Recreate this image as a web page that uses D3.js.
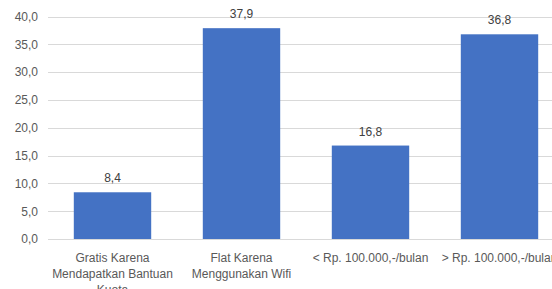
<!DOCTYPE html>
<html>
<head>
<meta charset="utf-8">
<script src="https://cdn.jsdelivr.net/npm/d3@7"></script>
<style>
  body { margin: 0; background: #fff; }
  svg { display: block; font-family: "Liberation Sans", Arial, sans-serif; }
</style>
</head>
<body>
<div id="chart"></div>
<script>
const categories = [
  'Gratis Karena Mendapatkan Bantuan Kuota',
  'Flat Karena Menggunakan Wifi',
  '< Rp. 100.000,-/bulan',
  '> Rp. 100.000,-/bulan'
];
const values = [8.4, 37.9, 16.8, 36.8];
const yTicks = [0, 5, 10, 15, 20, 25, 30, 35, 40];

const width = 552, height = 289;
const margin = { top: 16.5, left: 48, bottom: 50 };
const plotRight = 564; // plot area runs past the right edge of the picture

const svg = d3.select('#chart')
  .append('svg')
  .attr('width', width)
  .attr('height', height);

const fmt = v => d3.format('.1f')(v).replace('.', ',');

const x = d3.scaleBand()
  .domain(categories)
  .range([margin.left, plotRight])
  .paddingInner(0.4)
  .paddingOuter(0.2);

const y = d3.scaleLinear()
  .domain([0, 40])
  .range([239, margin.top]);

// gridlines
svg.append('g')
  .selectAll('line')
  .data(yTicks)
  .join('line')
  .attr('x1', margin.left)
  .attr('x2', plotRight)
  .attr('y1', d => Math.round(y(d)) + 0.5)
  .attr('y2', d => Math.round(y(d)) + 0.5)
  .attr('stroke', '#d9d9d9')
  .attr('stroke-width', 1);

// y axis labels
const yAxis = svg.append('g')
  .attr('transform', `translate(${margin.left - 10},0)`)
  .call(d3.axisLeft(y).tickValues(yTicks).tickFormat(fmt).tickSize(0).tickPadding(0));
yAxis.select('.domain').remove();
yAxis.selectAll('text')
  .attr('fill', '#595959')
  .style('font-size', '12px')
  .style('font-family', '"Liberation Sans", Arial, sans-serif');

// bars
svg.append('g')
  .selectAll('rect')
  .data(values)
  .join('rect')
  .attr('x', (d, i) => x(categories[i]))
  .attr('y', d => y(d))
  .attr('width', x.bandwidth())
  .attr('height', d => y(0) - y(d))
  .attr('fill', '#4472c4');

// value labels
svg.append('g')
  .selectAll('text')
  .data(values)
  .join('text')
  .attr('x', (d, i) => x(categories[i]) + x.bandwidth() / 2)
  .attr('y', d => y(d) - 10)
  .attr('text-anchor', 'middle')
  .attr('fill', '#404040')
  .style('font-size', '12px')
  .text(fmt);

// category labels, wrapped to the band step
const xAxis = svg.append('g')
  .attr('transform', `translate(0,${y(0)})`)
  .call(d3.axisBottom(x).tickSize(0).tickPadding(0));
xAxis.select('.domain').remove();
xAxis.selectAll('text')
  .attr('fill', '#595959')
  .style('font-size', '12px')
  .style('font-family', '"Liberation Sans", Arial, sans-serif')
  .call(wrap, 124);

function wrap(texts, maxWidth) {
  texts.each(function () {
    const text = d3.select(this);
    const words = text.text().split(/\s+/);
    text.text(null);
    let line = [];
    let lineNo = 0;
    let tspan = text.append('tspan').attr('x', 0).attr('y', 23);
    for (const word of words) {
      line.push(word);
      tspan.text(line.join(' '));
      if (tspan.node().getComputedTextLength() > maxWidth && line.length > 1) {
        line.pop();
        tspan.text(line.join(' '));
        line = [word];
        lineNo++;
        tspan = text.append('tspan').attr('x', 0).attr('y', 23 + lineNo * 16).text(word);
      }
    }
    text.attr('dy', null);
  });
}
</script>
</body>
</html>
